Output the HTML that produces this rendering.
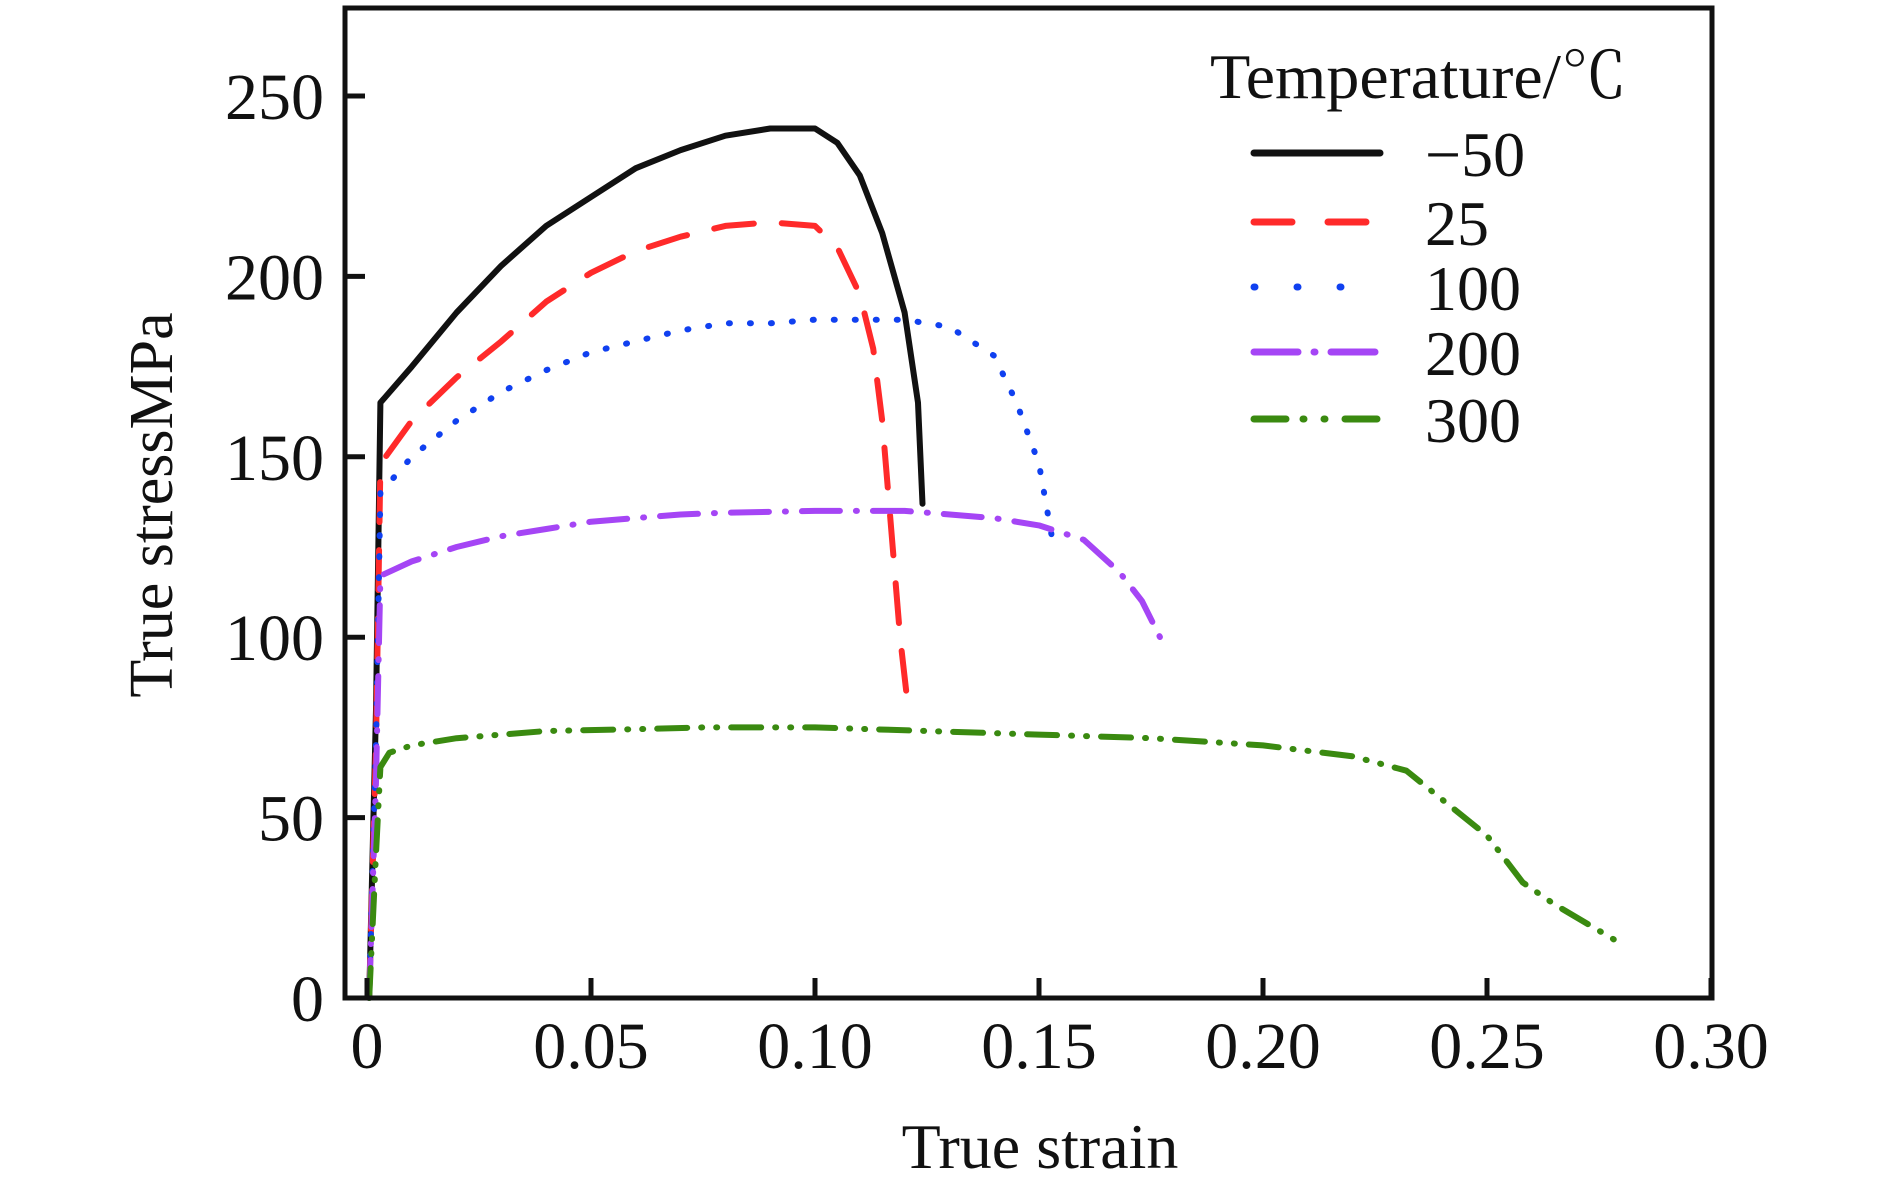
<!DOCTYPE html>
<html><head><meta charset="utf-8"><style>
html,body{margin:0;padding:0;background:#fff}
svg{display:block}
text{font-family:"Liberation Serif","Noto Serif CJK SC",serif;fill:#111}
</style></head><body>
<svg id="chart" width="1890" height="1193" viewBox="0 0 1890 1193" xmlns="http://www.w3.org/2000/svg">
<g id="plot"></g>
<rect x="345" y="8" width="1367" height="990" fill="none" stroke="#111" stroke-width="5"/>
<g id="ticks"></g>
<text x="1040" y="1168" font-size="64" text-anchor="middle">True strain</text>
<text transform="translate(172,505) rotate(-90)" font-size="62" text-anchor="middle">True stressMPa</text>
<g id="legend"></g>
</svg>
<script>
const xTicks=[0,0.05,0.10,0.15,0.20,0.25,0.30];
const xTickLabels=["0","0.05","0.10","0.15","0.20","0.25","0.30"];
const yTicks=[0,50,100,150,200,250];
const yTickLabels=["0","50","100","150","200","250"];
const seriesNames=["−50","25","100","200","300"];
const sM50=[[0.0005,0],[0.002,80],[0.003,165],[0.01,175],[0.02,190],[0.03,203],[0.04,214],[0.05,222],[0.06,230],[0.07,235],[0.08,239],[0.09,241],[0.1,241],[0.105,237],[0.11,228],[0.115,212],[0.12,190],[0.123,165],[0.124,137]];
const s25=[[0.0005,0],[0.002,70],[0.003,148],[0.01,160],[0.02,172],[0.03,182],[0.04,193],[0.05,201],[0.06,207],[0.07,211],[0.08,214],[0.09,215],[0.1,214],[0.105,208],[0.11,195],[0.113,180],[0.115,160],[0.117,130],[0.119,100],[0.121,78]];
const s100=[[0.0005,0],[0.002,70],[0.003,140],[0.01,150],[0.02,160],[0.03,168],[0.04,174],[0.05,179],[0.06,182],[0.07,185],[0.08,187],[0.09,187],[0.1,188],[0.11,188],[0.12,188],[0.13,186],[0.14,178],[0.145,165],[0.15,148],[0.153,127]];
const s200=[[0.0005,0],[0.002,60],[0.003,117],[0.01,121],[0.02,125],[0.03,128],[0.04,130],[0.05,132],[0.06,133],[0.07,134],[0.08,134.5],[0.1,135],[0.12,135],[0.14,133],[0.15,131],[0.16,127],[0.168,118],[0.173,110],[0.177,100]];
const s300=[[0.0005,0],[0.002,40],[0.003,64],[0.005,68],[0.01,70],[0.02,72],[0.03,73],[0.04,74],[0.06,74.5],[0.075,75],[0.1,75],[0.125,74],[0.15,73],[0.175,72],[0.2,70],[0.22,67],[0.232,63],[0.24,55],[0.25,45],[0.258,32],[0.265,26],[0.28,15]];

const X=v=>367+v*4480;
const Y=v=>998-v*3.608;
const NS="http://www.w3.org/2000/svg";
function mk(tag,attrs,parent){const e=document.createElementNS(NS,tag);for(const k in attrs)e.setAttribute(k,attrs[k]);parent.appendChild(e);return e;}
const ticks=document.getElementById('ticks');
xTicks.forEach((t,i)=>{
  const l=mk('line',{x1:X(t),x2:X(t),y1:998,y2:978,stroke:'#111','stroke-width':5},ticks);
  
  
  const tx=mk('text',{x:X(t),y:1068,'font-size':66,'text-anchor':'middle'},ticks);
  
  
  tx.textContent=xTickLabels[i];
});
yTicks.forEach((t,i)=>{
  const l=mk('line',{x1:345,x2:365,y1:Y(t),y2:Y(t),stroke:'#111','stroke-width':5},ticks);
  
  
  const tx=mk('text',{x:324,y:Y(t)+23,'font-size':66,'text-anchor':'end'},ticks);
  
  
  tx.textContent=yTickLabels[i];
});
const styles=[
 {c:'#111111',d:'',name:'series-minus50'},
 {c:'#ff2a2a',d:'40 28',name:'series-25'},
 {c:'#1040f0',d:'1 20',name:'series-100'},
 {c:'#a545f5',d:'38 16 1 16',name:'series-200'},
 {c:'#3a8a10',d:'30 14 1 14 1 14',name:'series-300'}];
const data=[sM50,s25,s100,s200,s300];
const plot=document.getElementById('plot');
data.forEach((s,i)=>{
  const p=mk('path',{d:'M'+s.map(q=>X(q[0]).toFixed(1)+','+Y(q[1]).toFixed(1)).join('L'),fill:'none',stroke:styles[i].c,'stroke-width':6,'stroke-linecap':'round','stroke-linejoin':'round'},plot);
  if(styles[i].d)p.setAttribute('stroke-dasharray',styles[i].d);
  
  
});
const lg=document.getElementById('legend');
const tt=mk('text',{x:1210,y:98,'font-size':64,textLength:417,lengthAdjust:'spacingAndGlyphs'},lg);


tt.textContent='Temperature/℃';
const rows=[153,222,287,352,419];
seriesNames.forEach((n,i)=>{
  const l=mk('line',{x1:1254,x2:1380,y1:rows[i],y2:rows[i],stroke:styles[i].c,'stroke-width':7,'stroke-linecap':'round'},lg);
  const lgd=['', '38 36','1 42','44 16 1 16','32 17 1 20 1 20'][i];
  if(lgd)l.setAttribute('stroke-dasharray',lgd);
  
  
  const t=mk('text',{x:1425,y:rows[i]+23,'font-size':64},lg);
  
  
  t.textContent=n;
});
</script>
</body></html>
